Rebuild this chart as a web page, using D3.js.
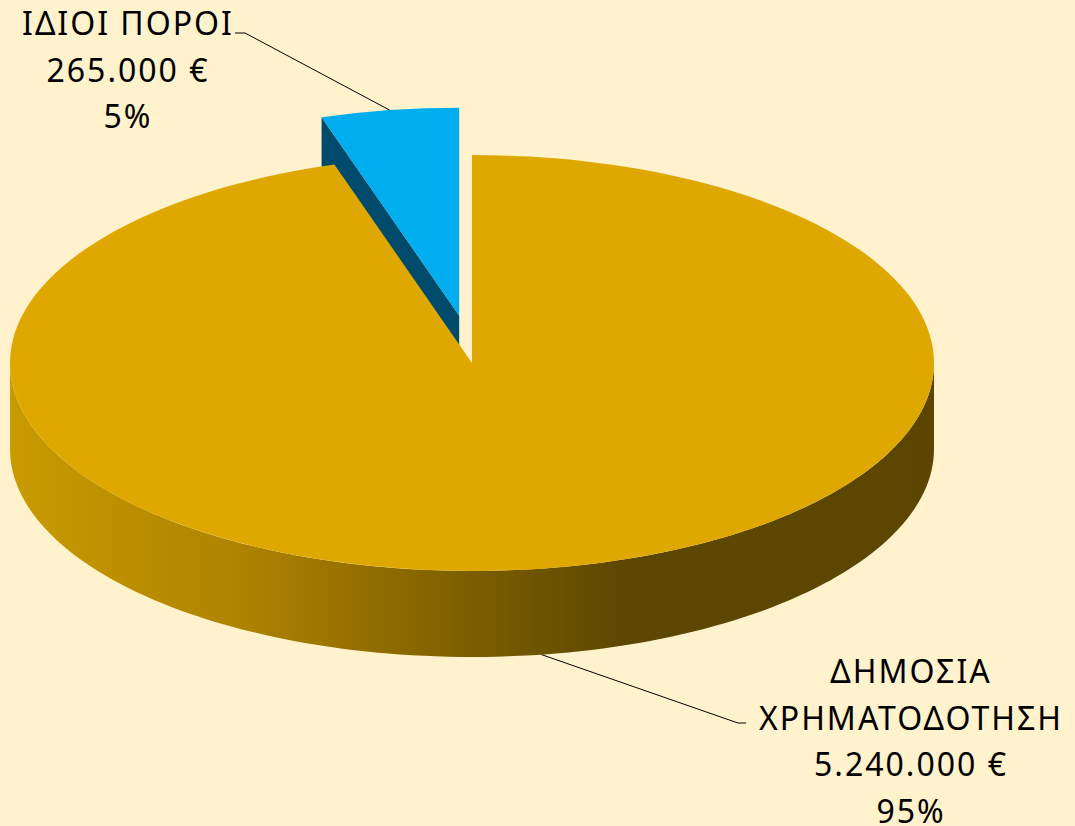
<!DOCTYPE html>
<html lang="el">
<head>
	<meta charset="utf-8">
	<script src="https://d3js.org/d3.v7.min.js"></script>
	<style type="text/css">
		body { margin: 0; background: #FFF2CC; }
		text { font-family: "Noto Sans", sans-serif; fill: #000; }
	</style>
	<title>Χρηματοδότηση</title>
</head>
<body>
<script type="text/javascript">
// data
var categories = ["ΔΗΜΟΣΙΑ ΧΡΗΜΑΤΟΔΟΤΗΣΗ", "ΙΔΙΟΙ ΠΟΡΟΙ"];
var labelLines = [["ΔΗΜΟΣΙΑ", "ΧΡΗΜΑΤΟΔΟΤΗΣΗ"], ["ΙΔΙΟΙ ΠΟΡΟΙ"]];
var values = [5240000, 265000];
var topColors = ["#DFA800", "#00AEEF"];
var explode = [0, 0.23];

//Width and height
var w = 1075;
var h = 826;
var cx = 472, cy = 363, rx = 462, ry = 208, depth = 86;

var euro = d3.formatLocale({decimal: ",", thousands: ".", grouping: [3], currency: ["", " €"]});
var fmt = euro.format("$,.0f");
var total = d3.sum(values);

var svg = d3.select("body").append("svg")
	.attr("width", w)
	.attr("height", h);

svg.append("rect").attr("width", w).attr("height", h).attr("fill", "#FFF2CC");

// side shading
var grad = svg.append("defs").append("linearGradient")
	.attr("id", "sideGrad")
	.attr("gradientUnits", "userSpaceOnUse")
	.attr("x1", cx - rx).attr("x2", cx + rx).attr("y1", 0).attr("y2", 0);
grad.append("stop").attr("offset", 0).attr("stop-color", "#C99B00");
grad.append("stop").attr("offset", 0.25).attr("stop-color", "#AE8300");
grad.append("stop").attr("offset", 0.5).attr("stop-color", "#7C5E00");
grad.append("stop").attr("offset", 0.66).attr("stop-color", "#5E4700");
grad.append("stop").attr("offset", 1).attr("stop-color", "#5C4500");

var pie = d3.pie().sort(null).value(function(d) { return d; });
var arcs = pie(values);

function pt(a, ox, oy, dy) {
	return [ox + rx * Math.sin(a), oy - ry * Math.cos(a) + (dy || 0)];
}

// offsets for exploded slices
arcs.forEach(function(d, i) {
	var mid = (d.startAngle + d.endAngle) / 2;
	d.ox = cx + explode[i] * rx * Math.sin(mid) * 0.8;
	d.oy = cy - explode[i] * ry * Math.cos(mid);
	d.mid = mid;
});

var arcGen = d3.arc().innerRadius(0).outerRadius(rx);
var line = d3.line();

// blue slice: visible cut face + top
var b = arcs[1];
var edge = [[b.ox, b.oy], pt(b.startAngle, b.ox, b.oy), pt(b.startAngle, b.ox, b.oy, depth), [b.ox, b.oy + depth]];
svg.append("path").attr("d", line(edge) + "Z").attr("fill", "#004B6B");
svg.append("path")
	.attr("d", arcGen(b))
	.attr("transform", "translate(" + b.ox + "," + b.oy + ") scale(1," + (ry / rx) + ")")
	.attr("fill", topColors[1]);

// gold slice: front wall + top
var g = arcs[0];
var a0 = Math.max(g.startAngle, Math.PI / 2), a1 = Math.min(g.endAngle, 3 * Math.PI / 2);
var wallTop = d3.range(0, 121).map(function(k) { return pt(a0 + (a1 - a0) * k / 120, g.ox, g.oy); });
var wallBot = wallTop.map(function(p) { return [p[0], p[1] + depth]; }).reverse();
svg.append("path").attr("d", line(wallTop.concat(wallBot)) + "Z").attr("fill", "url(#sideGrad)");
svg.append("path")
	.attr("d", arcGen(g))
	.attr("transform", "translate(" + g.ox + "," + g.oy + ") scale(1," + (ry / rx) + ")")
	.attr("fill", topColors[0]);

// labels
var labelPos = [
	{x: 910, y: 683, elbow: [738, 723], end: [746, 723], onWall: true},
	{x: 127, y: 35, elbow: [245, 33], end: [235, 33], onWall: false}
];
var lh = 46.5;

arcs.forEach(function(d, i) {
	var L = labelPos[i];
	var start = pt(d.mid, d.ox, d.oy, L.onWall ? depth : 0);
	svg.append("path")
		.attr("d", line([start, L.elbow, L.end]))
		.attr("fill", "none").attr("stroke", "#000").attr("stroke-width", 1);
	var lines = labelLines[i].concat([fmt(values[i]), Math.round(values[i] / total * 100) + "%"]);
	var t = svg.append("text").attr("text-anchor", "middle")
		.style("font-size", "32px").style("letter-spacing", "2px");
	lines.forEach(function(s, k) {
		t.append("tspan").attr("x", L.x + 1).attr("y", L.y + k * lh).text(s);
	});
});
</script>
</body>
</html>
